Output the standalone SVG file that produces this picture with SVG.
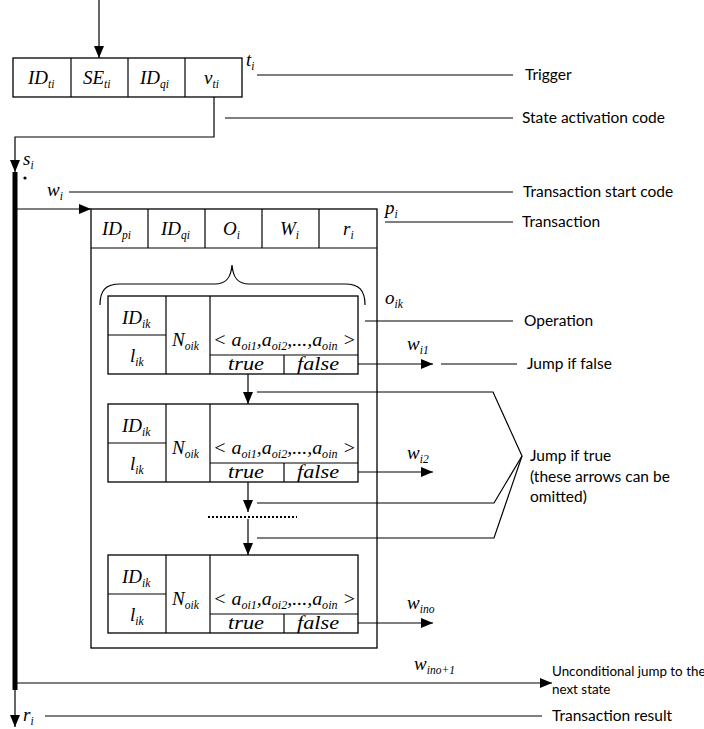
<svg xmlns="http://www.w3.org/2000/svg" width="704" height="729" viewBox="0 0 704 729">
<defs>
<style>
.b{fill:#fff;stroke:#000;stroke-width:1.3}
.l{fill:none;stroke:#000;stroke-width:1.2}
.m{font-family:"Liberation Serif",serif;font-style:italic;font-size:19px;fill:#000}
.s{font-size:11.5px}
.t{font-family:"Liberation Serif",serif;font-style:italic;font-size:18px;fill:#000}
.c{font-family:Lato,"Liberation Sans",sans-serif;font-size:15.5px;fill:#000}
.u{font-size:13.4px}
</style>
<marker id="ah" markerWidth="12" markerHeight="10" refX="12" refY="5" orient="auto" markerUnits="userSpaceOnUse"><path d="M0,0 L12,5 L0,10 z" fill="#000"/></marker>
</defs>

<g id="trigger">
<rect class="b" x="13" y="58" width="229" height="39"/>
<line class="l" x1="71" y1="58" x2="71" y2="97"/>
<line class="l" x1="128" y1="58" x2="128" y2="97"/>
<line class="l" x1="185" y1="58" x2="185" y2="97"/>
<text class="m" x="28" y="84">ID<tspan class="s" dy="4">ti</tspan></text>
<text class="m" x="83" y="84">SE<tspan class="s" dy="4">ti</tspan></text>
<text class="m" x="140" y="84">ID<tspan class="s" dy="4">qi</tspan></text>
<text class="m" x="204" y="84">v<tspan class="s" dy="4">ti</tspan></text>
<text class="m" x="246" y="66">t<tspan class="s" dy="4">i</tspan></text>
</g>

<g id="transaction">
<rect class="b" x="91" y="209" width="286" height="439"/>
<line class="l" x1="91" y1="248" x2="377" y2="248"/>
<line class="l" x1="148" y1="209" x2="148" y2="248"/>
<line class="l" x1="205" y1="209" x2="205" y2="248"/>
<line class="l" x1="262" y1="209" x2="262" y2="248"/>
<line class="l" x1="319" y1="209" x2="319" y2="248"/>
<text class="m" x="102" y="235">ID<tspan class="s" dy="4">pi</tspan></text>
<text class="m" x="161" y="235">ID<tspan class="s" dy="4">qi</tspan></text>
<text class="m" x="223" y="235">O<tspan class="s" dy="4">i</tspan></text>
<text class="m" x="280" y="235">W<tspan class="s" dy="4">i</tspan></text>
<text class="m" x="343" y="235">r<tspan class="s" dy="4">i</tspan></text>
<text class="m" x="385" y="214">p<tspan class="s" dy="4">i</tspan></text>
<path class="l" d="M100,305 C100,290 106,284 120,284 L215,284 C226,284 231,278 232,265 C233,278 238,284 249,284 L345,284 C359,284 365,290 365,305"/>
<text class="m" x="385" y="304">o<tspan class="s" dy="4">ik</tspan></text>
</g>

<g id="op1">
<rect class="b" x="108" y="296" width="250" height="78"/>
<line class="l" x1="108" y1="335" x2="166" y2="335"/>
<line class="l" x1="166" y1="296" x2="166" y2="374"/>
<line class="l" x1="210" y1="296" x2="210" y2="374"/>
<line class="l" x1="210" y1="355" x2="358" y2="355"/>
<line class="l" x1="284" y1="355" x2="284" y2="374"/>
<text class="m" x="122" y="324">ID<tspan class="s" dy="4">ik</tspan></text>
<text class="m" x="130" y="362">l<tspan class="s" dy="4">ik</tspan></text>
<text class="m" x="172" y="346">N<tspan class="s" dy="4">oik</tspan></text>
<text class="m" x="213" y="346" textLength="143" lengthAdjust="spacingAndGlyphs">&lt; a<tspan class="s" dy="4">oi1</tspan><tspan dy="-4">,a</tspan><tspan class="s" dy="4">oi2</tspan><tspan dy="-4">,...,a</tspan><tspan class="s" dy="4">oin</tspan><tspan dy="-4"> &gt;</tspan></text>
<text class="t" x="228" y="370" textLength="36" lengthAdjust="spacingAndGlyphs">true</text>
<text class="t" x="297" y="370" textLength="42" lengthAdjust="spacingAndGlyphs">false</text>
</g>

<g id="op2">
<rect class="b" x="108" y="404" width="250" height="78"/>
<line class="l" x1="108" y1="443" x2="166" y2="443"/>
<line class="l" x1="166" y1="404" x2="166" y2="482"/>
<line class="l" x1="210" y1="404" x2="210" y2="482"/>
<line class="l" x1="210" y1="463" x2="358" y2="463"/>
<line class="l" x1="284" y1="463" x2="284" y2="482"/>
<text class="m" x="122" y="432">ID<tspan class="s" dy="4">ik</tspan></text>
<text class="m" x="130" y="470">l<tspan class="s" dy="4">ik</tspan></text>
<text class="m" x="172" y="454">N<tspan class="s" dy="4">oik</tspan></text>
<text class="m" x="213" y="454" textLength="143" lengthAdjust="spacingAndGlyphs">&lt; a<tspan class="s" dy="4">oi1</tspan><tspan dy="-4">,a</tspan><tspan class="s" dy="4">oi2</tspan><tspan dy="-4">,...,a</tspan><tspan class="s" dy="4">oin</tspan><tspan dy="-4"> &gt;</tspan></text>
<text class="t" x="228" y="478" textLength="36" lengthAdjust="spacingAndGlyphs">true</text>
<text class="t" x="297" y="478" textLength="42" lengthAdjust="spacingAndGlyphs">false</text>
</g>

<g id="op3">
<rect class="b" x="108" y="555" width="250" height="78"/>
<line class="l" x1="108" y1="594" x2="166" y2="594"/>
<line class="l" x1="166" y1="555" x2="166" y2="633"/>
<line class="l" x1="210" y1="555" x2="210" y2="633"/>
<line class="l" x1="210" y1="614" x2="358" y2="614"/>
<line class="l" x1="284" y1="614" x2="284" y2="633"/>
<text class="m" x="122" y="583">ID<tspan class="s" dy="4">ik</tspan></text>
<text class="m" x="130" y="621">l<tspan class="s" dy="4">ik</tspan></text>
<text class="m" x="172" y="605">N<tspan class="s" dy="4">oik</tspan></text>
<text class="m" x="213" y="605" textLength="143" lengthAdjust="spacingAndGlyphs">&lt; a<tspan class="s" dy="4">oi1</tspan><tspan dy="-4">,a</tspan><tspan class="s" dy="4">oi2</tspan><tspan dy="-4">,...,a</tspan><tspan class="s" dy="4">oin</tspan><tspan dy="-4"> &gt;</tspan></text>
<text class="t" x="228" y="629" textLength="36" lengthAdjust="spacingAndGlyphs">true</text>
<text class="t" x="297" y="629" textLength="42" lengthAdjust="spacingAndGlyphs">false</text>
</g>

<g id="bar">
<line x1="15" y1="172" x2="15" y2="690" stroke="#000" stroke-width="5"/>
<circle cx="25" cy="178" r="1.6" fill="#000"/>
<text class="m" x="23" y="165">s<tspan class="s" dy="4">i</tspan></text>
</g>

<g id="connectors">
<line class="l" x1="99" y1="0" x2="99" y2="58" marker-end="url(#ah)"/>
<polyline class="l" points="214,97 214,137 15,137 15,172" marker-end="url(#ah)"/>
<line class="l" x1="17" y1="209" x2="91" y2="209" marker-end="url(#ah)"/>
<line class="l" x1="248" y1="374" x2="248" y2="404" marker-end="url(#ah)"/>
<line class="l" x1="248" y1="482" x2="248" y2="512" marker-end="url(#ah)"/>
<line x1="208" y1="517" x2="297" y2="517" stroke="#000" stroke-width="2" stroke-dasharray="2,2"/>
<line class="l" x1="248" y1="519" x2="248" y2="555" marker-end="url(#ah)"/>
<line class="l" x1="358" y1="364" x2="433" y2="364" marker-end="url(#ah)"/>
<line class="l" x1="358" y1="472" x2="433" y2="472" marker-end="url(#ah)"/>
<line class="l" x1="358" y1="623" x2="433" y2="623" marker-end="url(#ah)"/>
<line class="l" x1="17" y1="683" x2="552" y2="683" marker-end="url(#ah)"/>
<line class="l" x1="15" y1="690" x2="15" y2="727" marker-end="url(#ah)"/>
<text class="m" x="47" y="196">w<tspan class="s" dy="4">i</tspan></text>
<text class="m" x="407" y="350">w<tspan class="s" dy="4">i1</tspan></text>
<text class="m" x="407" y="459">w<tspan class="s" dy="4">i2</tspan></text>
<text class="m" x="407" y="609">w<tspan class="s" dy="4">ino</tspan></text>
<text class="m" x="414" y="670">w<tspan class="s" dy="4">ino+1</tspan></text>
<text class="m" x="23" y="721">r<tspan class="s" dy="4">i</tspan></text>
</g>

<g id="labels">
<line class="l" x1="257" y1="75" x2="513" y2="75"/>
<text class="c" x="525" y="80">Trigger</text>
<line class="l" x1="225" y1="118" x2="513" y2="118"/>
<text class="c" x="522" y="123">State activation code</text>
<line class="l" x1="69" y1="192" x2="513" y2="192"/>
<text class="c" x="523" y="197">Transaction start code</text>
<line class="l" x1="385" y1="222" x2="513" y2="222"/>
<text class="c" x="522" y="227">Transaction</text>
<line class="l" x1="365" y1="321" x2="513" y2="321"/>
<text class="c" x="524" y="326">Operation</text>
<line class="l" x1="441" y1="364" x2="517" y2="364"/>
<text class="c" x="527" y="369">Jump if false</text>
<polyline class="l" points="257,392 493,392 522,456 494,503 257,503"/>
<polyline class="l" points="522,456 494,538 257,538"/>
<text class="c" x="530" y="461">Jump if true</text>
<text class="c" x="530" y="482">(these arrows can be</text>
<text class="c" x="530" y="502">omitted)</text>
<text class="c u" x="552" y="676">Unconditional jump to the</text>
<text class="c u" x="552" y="694">next state</text>
<line class="l" x1="45" y1="716" x2="542" y2="716"/>
<text class="c" x="552" y="721">Transaction result</text>
</g>
</svg>
